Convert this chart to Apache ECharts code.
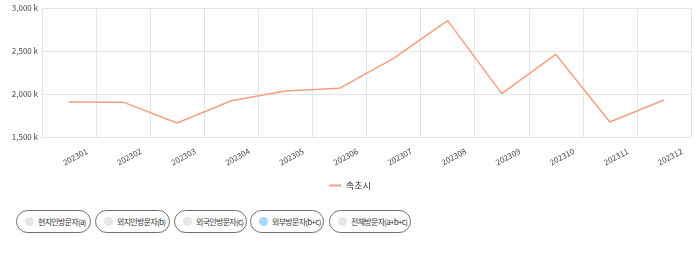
<!DOCTYPE html>
<html><head><meta charset="utf-8">
<script src="https://cdn.jsdelivr.net/npm/echarts@6/dist/echarts.min.js"></script>
<style>
html,body{margin:0;padding:0;background:#fff;width:700px;height:262px;overflow:hidden;font-family:"Noto Sans CJK KR","Noto Sans",sans-serif;}
#chart{position:absolute;left:0;top:0;width:700px;height:205px;}
#btns{position:absolute;left:16px;top:210px;}
.b{position:absolute;top:0;box-sizing:border-box;height:23px;border:1px solid #6f6f6f;border-radius:12px;font-size:8px;color:#333;letter-spacing:-0.7px;white-space:nowrap;}
.d{position:absolute;left:8px;top:6px;width:9px;height:9px;border-radius:50%;background:#e3e7e7;}
.d.on{background:#a6d8f7;}
.t{position:absolute;left:21px;top:5px;line-height:12px;}
</style></head><body>
<div id="chart"></div>
<div id="btns"></div>
<script>
const categories = ['202301','202302','202303','202304','202305','202306','202307','202308','202309','202310','202311','202312'];
const seriesName = '속초시';
const values = [1907000,1905000,1663000,1922000,2035000,2066000,2415000,2853000,2004000,2461000,1674000,1930000];
const yTicks = {min:1500000, max:3000000, interval:500000};
const buttons = ['현지인방문자(a)','외지인방문자(b)','외국인방문자(c)','외부방문자(b+c)','전체방문자(a+b+c)'];
const activeButton = 3;

const lefts=[0,79,158,234,313];
const widths=[75,75,73,74,82];
const bc=document.getElementById('btns');
buttons.forEach((t,i)=>{const e=document.createElement('div');e.className='b';e.style.left=lefts[i]+'px';e.style.width=widths[i]+'px';
e.innerHTML='<span class="d'+(i===activeButton?' on':'')+'"></span><span class="t">'+t+'</span>';bc.appendChild(e);});

const chart=echarts.init(document.getElementById('chart'),null,{renderer:'canvas'});
chart.setOption({
  animation:false,
  textStyle:{fontFamily:'"Noto Sans CJK KR","Noto Sans",sans-serif'},
  grid:{left:42,right:9,top:8,bottom:68,containLabel:false},
  legend:{data:[seriesName],top:176,left:'center',itemWidth:12,itemHeight:2,icon:'rect',itemGap:5,
    textStyle:{fontSize:9,color:'#333'}},
  xAxis:{type:'category',data:categories,boundaryGap:true,
    axisLine:{show:true,lineStyle:{color:'#e3e6e6'}},axisTick:{show:false},
    splitLine:{show:true,lineStyle:{color:'#e3e6e6'}},
    axisLabel:{rotate:28,fontSize:8,color:'#444',margin:23,interval:0,align:'center',padding:[0,0,0,14]}},
  yAxis:{type:'value',min:yTicks.min,max:yTicks.max,interval:yTicks.interval,
    axisLine:{show:false},axisTick:{show:false},
    splitLine:{lineStyle:{color:'#e3e6e6'}},
    axisLabel:{fontSize:8,color:'#444',margin:4,formatter:v=>(v/1000).toLocaleString('en-US')+' k'}},
  series:[{name:seriesName,type:'line',data:values,symbol:'none',
    lineStyle:{color:'#f2a07e',width:1.5},itemStyle:{color:'#f2a07e'}}]
});
</script></body></html>
